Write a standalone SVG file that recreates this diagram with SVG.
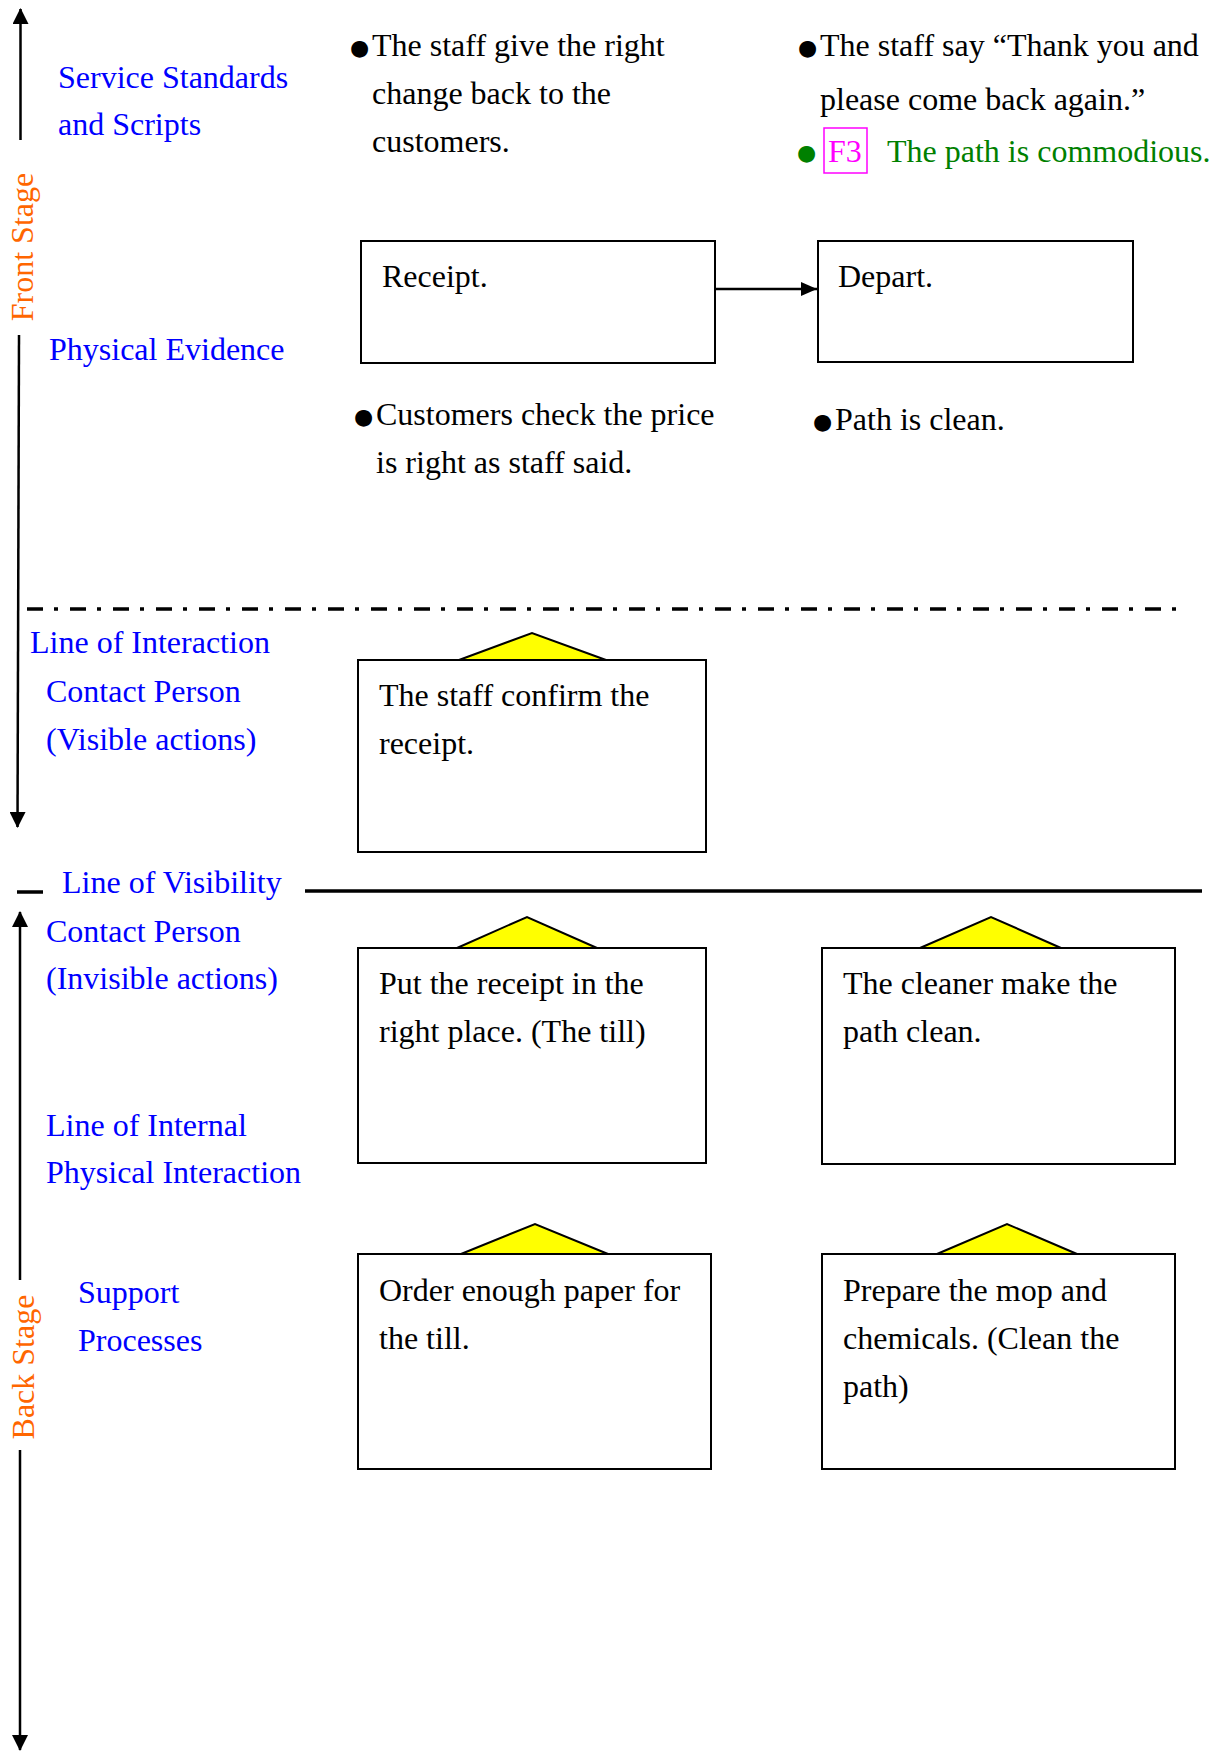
<svg xmlns="http://www.w3.org/2000/svg" width="1222" height="1751" viewBox="0 0 1222 1751">
<style>
text{font-family:"Liberation Serif","Times New Roman",serif;font-size:32px;}
.blk{fill:#000;}
.blue{fill:#0000FF;}
.orange{fill:#FF6600;}
.green{fill:#008000;}
.mag{fill:#FF00FF;}
.bul{font-family:"DejaVu Sans",sans-serif;font-size:22px;}
.box{fill:#fff;stroke:#000;stroke-width:2;}
.tri{fill:#FFFF00;stroke:#000;stroke-width:2;stroke-linejoin:miter;}
.ax{stroke:#000;stroke-width:2.5;fill:none;}
</style>
<defs>
<marker id="ah" markerUnits="userSpaceOnUse" markerWidth="16" markerHeight="16" refX="15" refY="8" orient="auto">
<path d="M0,0 L16,8 L0,16 Z" fill="#000"/>
</marker>
<marker id="ahs" markerUnits="userSpaceOnUse" markerWidth="16" markerHeight="14" refX="16" refY="7" orient="auto">
<path d="M0,0 L16,7 L0,14 Z" fill="#000"/>
</marker>
</defs>

<g id="axes">
<line class="ax" x1="20.5" y1="140" x2="20.5" y2="9" marker-end="url(#ah)"/>
<line class="ax" x1="19" y1="335" x2="17.5" y2="827" marker-end="url(#ah)"/>
<line class="ax" x1="20" y1="1280" x2="20" y2="912" marker-end="url(#ah)"/>
<line class="ax" x1="20" y1="1450" x2="20" y2="1750" marker-end="url(#ah)"/>
<text class="orange" text-anchor="middle" transform="translate(33,247) rotate(-90)">Front Stage</text>
<text class="orange" text-anchor="middle" transform="translate(34,1367) rotate(-90)">Back Stage</text>
</g>

<g id="lines">
<line x1="27" y1="609" x2="1181" y2="609" stroke="#000" stroke-width="3.5" stroke-dasharray="16 11 4 12"/>
<line x1="17" y1="892" x2="43" y2="892" stroke="#000" stroke-width="3.5"/>
<line x1="305" y1="891" x2="1202" y2="891" stroke="#000" stroke-width="3.5"/>
</g>

<g id="labels">
<text class="blue" x="58" y="88">Service Standards</text>
<text class="blue" x="58" y="135">and Scripts</text>
<text class="blue" x="49" y="360">Physical Evidence</text>
<text class="blue" x="30" y="653">Line of Interaction</text>
<text class="blue" x="46" y="702">Contact Person</text>
<text class="blue" x="46" y="750">(Visible actions)</text>
<text class="blue" x="62" y="893">Line of Visibility</text>
<text class="blue" x="46" y="942">Contact Person</text>
<text class="blue" x="46" y="989">(Invisible actions)</text>
<text class="blue" x="46" y="1136">Line of Internal</text>
<text class="blue" x="46" y="1183">Physical Interaction</text>
<text class="blue" x="78" y="1303">Support</text>
<text class="blue" x="78" y="1351">Processes</text>
</g>

<g id="scripts1">
<text class="blk bul" x="350" y="55">●</text>
<text class="blk" x="372" y="56">The staff give the right</text>
<text class="blk" x="372" y="104">change back to the</text>
<text class="blk" x="372" y="152">customers.</text>
</g>

<g id="scripts2">
<text class="blk bul" x="798" y="55">●</text>
<text class="blk" x="820" y="56">The staff say “Thank you and</text>
<text class="blk" x="820" y="110">please come back again.”</text>
<text class="green bul" x="797" y="160">●</text>
<rect x="824" y="128" width="43" height="45" fill="none" stroke="#FF00FF" stroke-width="1.5"/>
<text class="mag" x="828" y="162">F3</text>
<text class="green" x="887" y="162">The path is commodious.</text>
</g>

<g id="evidence1">
<text class="blk bul" x="354" y="424">●</text>
<text class="blk" x="376" y="425">Customers check the price</text>
<text class="blk" x="376" y="473">is right as staff said.</text>
</g>

<g id="evidence2">
<text class="blk bul" x="813" y="429">●</text>
<text class="blk" x="835" y="430">Path is clean.</text>
</g>

<g id="receipt">
<rect class="box" x="361" y="241" width="354" height="122"/>
<text class="blk" x="382" y="287">Receipt.</text>
</g>

<g id="depart">
<rect class="box" x="818" y="241" width="315" height="121"/>
<text class="blk" x="838" y="287">Depart.</text>
</g>

<g id="connectors">
<line x1="715" y1="289" x2="817" y2="289" stroke="#000" stroke-width="2.5" marker-end="url(#ahs)"/>
</g>

<g id="confirm">
<polygon class="tri" points="459,660 532,633 606,660"/>
<rect class="box" x="358" y="660" width="348" height="192"/>
<text class="blk" x="379" y="706">The staff confirm the</text>
<text class="blk" x="379" y="754">receipt.</text>
</g>

<g id="putreceipt">
<polygon class="tri" points="457,948 527,917 597,948"/>
<rect class="box" x="358" y="948" width="348" height="215"/>
<text class="blk" x="379" y="994">Put the receipt in the</text>
<text class="blk" x="379" y="1042">right place. (The till)</text>
</g>

<g id="cleaner">
<polygon class="tri" points="920,948 991,917 1061,948"/>
<rect class="box" x="822" y="948" width="353" height="216"/>
<text class="blk" x="843" y="994">The cleaner make the</text>
<text class="blk" x="843" y="1042">path clean.</text>
</g>

<g id="orderpaper">
<polygon class="tri" points="461,1254 535,1224 608,1254"/>
<rect class="box" x="358" y="1254" width="353" height="215"/>
<text class="blk" x="379" y="1301">Order enough paper for</text>
<text class="blk" x="379" y="1349">the till.</text>
</g>

<g id="preparemop">
<polygon class="tri" points="937,1254 1007,1224 1077,1254"/>
<rect class="box" x="822" y="1254" width="353" height="215"/>
<text class="blk" x="843" y="1301">Prepare the mop and</text>
<text class="blk" x="843" y="1349">chemicals. (Clean the</text>
<text class="blk" x="843" y="1397">path)</text>
</g>
</svg>
